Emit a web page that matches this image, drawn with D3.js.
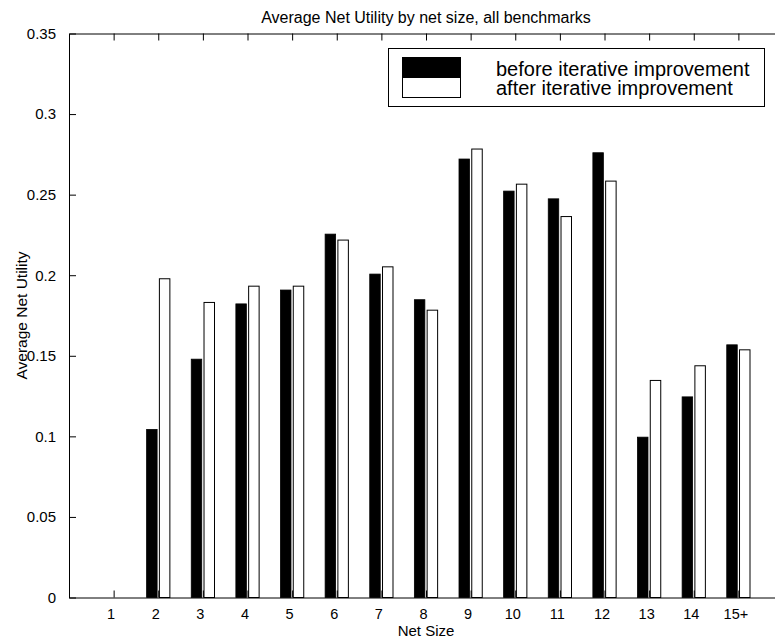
<!DOCTYPE html>
<html>
<head>
<meta charset="utf-8">
<script src="https://cdn.jsdelivr.net/npm/d3@7"></script>
<style>
  body { margin: 0; background: #fff; }
  svg { display: block; font-family: "Liberation Sans", Arial, Helvetica, sans-serif; }
</style>
</head>
<body>
<div id="chart"></div>
<script>
// net size categories (x positions 1..15)
const categories = ["1", "2", "3", "4", "5", "6", "7", "8", "9", "10", "11", "12", "13", "14", "15+"];
// average net utility
const beforeValues = [0, 0.1043, 0.1479, 0.1822, 0.1908, 0.2255, 0.2007, 0.1848, 0.2721, 0.2522, 0.2474, 0.2760, 0.0995, 0.1245, 0.1568];
const afterValues  = [0, 0.1978, 0.1831, 0.1932, 0.1932, 0.2218, 0.2052, 0.1783, 0.2783, 0.2565, 0.2364, 0.2584, 0.1347, 0.1438, 0.1537];
const yTicks = [0, 0.05, 0.1, 0.15, 0.2, 0.25, 0.3, 0.35];
const seriesNames = ["before iterative improvement", "after iterative improvement"];

const width = 775;
const height = 639;

const svg = d3.select("#chart")
  .append("svg")
  .attr("width", width)
  .attr("height", height);

// axes box runs past the right edge of the page, like the original
const x = d3.scaleLinear().domain([0, 16]).range([69, 783]);
const y = d3.scaleLinear().domain([0, 0.35]).range([597.5, 33.5]);

const barW = x(0.235) - x(0);
const offset = 0.143;

// bars
const rows = categories.map((c, i) => ({ i: i + 1, before: beforeValues[i], after: afterValues[i] }));

svg.append("g")
  .selectAll("rect")
  .data(rows.filter(d => d.before > 0))
  .join("rect")
    .attr("x", d => x(d.i - offset) - barW / 2)
    .attr("y", d => y(d.before))
    .attr("width", barW)
    .attr("height", d => y(0) - y(d.before))
    .attr("fill", "#000")
    .attr("stroke", "#000")
    .attr("stroke-width", 0.8);

svg.append("g")
  .selectAll("rect")
  .data(rows.filter(d => d.after > 0))
  .join("rect")
    .attr("x", d => x(d.i + offset) - barW / 2)
    .attr("y", d => y(d.after))
    .attr("width", barW)
    .attr("height", d => y(0) - y(d.after))
    .attr("fill", "#fff")
    .attr("stroke", "#000")
    .attr("stroke-width", 1);

// axes
const xAxis = d3.axisBottom(x)
  .tickValues(d3.range(1, 16))
  .tickFormat((d, i) => categories[i])
  .tickSizeInner(-7)
  .tickSizeOuter(0)
  .tickPadding(11);

const gx = svg.append("g")
  .attr("transform", `translate(0,${y(0)})`)
  .call(xAxis);
gx.selectAll("text").attr("font-size", 14.5).attr("dx", -3).attr("fill", "#000");

const xTop = d3.axisTop(x)
  .tickValues(d3.range(1, 16))
  .tickFormat("")
  .tickSizeInner(-7)
  .tickSizeOuter(0);
svg.append("g")
  .attr("transform", `translate(0,${y(0.35)})`)
  .call(xTop);

const yAxis = d3.axisLeft(y)
  .tickValues(yTicks)
  .tickFormat(d => d === 0 ? "0" : String(+d.toFixed(2)))
  .tickSizeInner(-7)
  .tickSizeOuter(0)
  .tickPadding(13);
const gy = svg.append("g")
  .attr("transform", `translate(${x(0)},0)`)
  .call(yAxis);
gy.selectAll("text").attr("font-size", 15).attr("fill", "#000");

svg.selectAll(".domain").attr("stroke", "#000");
svg.selectAll(".tick line").attr("stroke", "#000");

// titles
svg.append("text")
  .attr("x", x(8))
  .attr("y", 23)
  .attr("text-anchor", "middle")
  .attr("font-size", 16)
  .text("Average Net Utility by net size, all benchmarks");

svg.append("text")
  .attr("x", x(8))
  .attr("y", 636)
  .attr("text-anchor", "middle")
  .attr("font-size", 15)
  .text("Net Size");

svg.append("text")
  .attr("transform", `translate(27,${(y(0) + y(0.35)) / 2}) rotate(-90)`)
  .attr("text-anchor", "middle")
  .attr("font-size", 15.5)
  .text("Average Net Utility");

// legend
const legend = svg.append("g");
legend.append("rect")
  .attr("x", 388.5).attr("y", 48.5)
  .attr("width", 376).attr("height", 58)
  .attr("fill", "#fff").attr("stroke", "#000");
legend.append("rect")
  .attr("x", 402.5).attr("y", 57.5)
  .attr("width", 58).attr("height", 20)
  .attr("fill", "#000").attr("stroke", "#000");
legend.append("rect")
  .attr("x", 402.5).attr("y", 77.5)
  .attr("width", 58).attr("height", 20)
  .attr("fill", "#fff").attr("stroke", "#000");
// both entries in one text block, one line each
legend.append("text")
  .attr("font-size", 20)
  .selectAll("tspan")
  .data(seriesNames)
  .join("tspan")
    .attr("x", 496)
    .attr("y", (d, i) => 75.5 + i * 19)
    .text(d => d);
</script>
</body>
</html>
